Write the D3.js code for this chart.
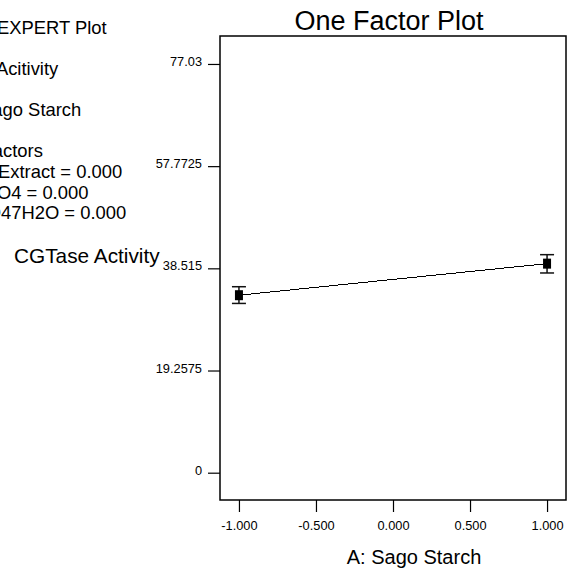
<!DOCTYPE html>
<html>
<head>
<meta charset="utf-8">
<script src="https://cdn.jsdelivr.net/npm/d3@7"></script>
<style>
  html, body { margin: 0; padding: 0; background: #fff; }
  svg { display: block; font-family: "Liberation Sans", Arial, Helvetica, sans-serif; }
</style>
</head>
<body>
<svg id="chart" width="575" height="568"></svg>
<script>
// ---- data ----
const chartTitle = "One Factor Plot";
const xAxisTitle = "A: Sago Starch";
const yAxisTitle = "CGTase Activity";
const infoLines = [
  "DESIGN-EXPERT Plot",
  "CGTase Acitivity",
  "X = A: Sago Starch",
  "Actual Factors",
  "B: Yeast Extract = 0.000",
  "C: K2HPO4 = 0.000",
  "D: MgSO47H2O = 0.000"
];
const xLevels = [-1, 1];
const predicted = [33.45, 39.4];
const lowerCI = [31.9, 37.64];
const upperCI = [35.05, 41.09];
const yTickValues = [0, 19.2575, 38.515, 57.7725, 77.03];
const yTickLabels = ["0", "19.2575", "38.515", "57.7725", "77.03"];
const xTickValues = [-1, -0.5, 0, 0.5, 1];
const xTickLabels = ["-1.000", "-0.500", "0.000", "0.500", "1.000"];

// ---- layout ----
const svg = d3.select("#chart");
const frame = { left: 220, right: 566, top: 36, bottom: 500 };

const x = d3.scaleLinear().domain([-1.123, 1.123]).range([frame.left, frame.right]);
const y = d3.scaleLinear().domain([-5.145, 82.30]).range([frame.bottom, frame.top]);

// info text block (left, partially clipped)
const infoBaselines = [34, 75, 115.5, 157, 177.5, 198.5, 218.5];
const infoShift = [-5, 0, 0, 0, 0, 0, 0];
const infoG = svg.append("g").attr("font-size", 18.4).attr("fill", "#000");
const tmp = infoG.append("text").text("DESIGN-");
const prefixW = tmp.node().getComputedTextLength();
tmp.remove();
const infoX = 2 - prefixW;
infoG.selectAll("text.info").data(infoLines).join("text")
  .attr("class", "info")
  .attr("x", (d, i) => infoX + infoShift[i])
  .attr("y", (d, i) => infoBaselines[i])
  .text(d => d);

// title
svg.append("text")
  .attr("x", 389).attr("y", 30)
  .attr("text-anchor", "middle")
  .attr("font-size", 27)
  .text(chartTitle);

// y axis title
svg.append("text")
  .attr("x", 14).attr("y", 263)
  .attr("font-size", 20.8)
  .text(yAxisTitle);

// x axis title
svg.append("text")
  .attr("x", 414).attr("y", 564)
  .attr("text-anchor", "middle")
  .attr("font-size", 20)
  .text(xAxisTitle);

// axes
const yAxis = d3.axisLeft(y)
  .tickValues(yTickValues)
  .tickFormat((d, i) => yTickLabels[i])
  .tickSize(12)
  .tickPadding(6);
const gy = svg.append("g").attr("transform", `translate(${frame.left},0)`).call(yAxis);
gy.select(".domain").remove();
gy.selectAll(".tick line").attr("stroke", "#000").attr("stroke-width", 1.2);
gy.selectAll(".tick text").attr("font-size", 12.8).attr("font-family", null).attr("fill", "#000").attr("dy", "0.12em");

const xAxis = d3.axisBottom(x)
  .tickValues(xTickValues)
  .tickFormat((d, i) => xTickLabels[i])
  .tickSize(12)
  .tickPadding(9);
const gx = svg.append("g").attr("transform", `translate(0,${frame.bottom})`).call(xAxis);
gx.select(".domain").remove();
gx.selectAll(".tick line").attr("stroke", "#000").attr("stroke-width", 1.2);
gx.selectAll(".tick text").attr("font-size", 12.8).attr("font-family", null).attr("fill", "#000");

// plot frame
svg.append("rect")
  .attr("x", frame.left).attr("y", frame.top)
  .attr("width", frame.right - frame.left)
  .attr("height", frame.bottom - frame.top)
  .attr("fill", "none")
  .attr("stroke", "#000")
  .attr("stroke-width", 1.5);

// prediction line
const pts = xLevels.map((v, i) => [v, predicted[i]]);
svg.append("path")
  .datum(pts)
  .attr("d", d3.line().x(d => x(d[0])).y(d => y(d[1])))
  .attr("fill", "none")
  .attr("stroke", "#000")
  .attr("stroke-width", 1)
  .attr("shape-rendering", "crispEdges");

// error bars + markers
const eb = svg.append("g");
xLevels.forEach((v, i) => {
  const cx = x(v);
  eb.append("line")
    .attr("x1", cx).attr("x2", cx)
    .attr("y1", y(lowerCI[i])).attr("y2", y(upperCI[i]))
    .attr("stroke", "#111").attr("stroke-width", 1.5);
  [lowerCI[i], upperCI[i]].forEach(c => {
    eb.append("line")
      .attr("x1", cx - 7).attr("x2", cx + 7)
      .attr("y1", y(c)).attr("y2", y(c))
      .attr("stroke", "#111").attr("stroke-width", 1.5);
  });
  eb.append("rect")
    .attr("x", cx - 4).attr("y", y(predicted[i]) - 5)
    .attr("width", 8).attr("height", 10)
    .attr("fill", "#000");
});
</script>
</body>
</html>
